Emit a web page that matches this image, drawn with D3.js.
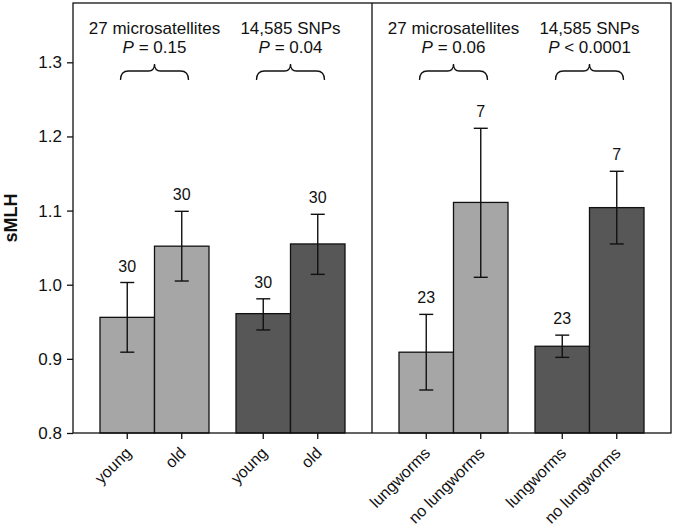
<!DOCTYPE html>
<html>
<head>
<meta charset="utf-8">
<script src="https://cdn.jsdelivr.net/npm/d3@7"></script>
<style>
  html, body { margin: 0; padding: 0; background: #fff; }
  svg { display: block; font-family: "Liberation Sans", Arial, sans-serif; }
</style>
</head>
<body>
<svg id="chart" width="674" height="529"></svg>
<script>
// ---- data ----
const panels = ["age", "lungworms"];
const markers = ["27 microsatellites", "14,585 SNPs"];
const pLabels = [["= 0.15", "= 0.04"], ["= 0.06", "< 0.0001"]];
const categories = [["young", "old"], ["lungworms", "no lungworms"]];
// means per panel -> marker -> category
const means = [[[0.956, 1.052], [0.961, 1.055]], [[0.909, 1.111], [0.917, 1.104]]];
const upper = [[[1.003, 1.099], [0.981, 1.095]], [[0.960, 1.211], [0.932, 1.153]]];
const lower = [[[0.909, 1.005], [0.939, 1.014]], [[0.858, 1.010], [0.902, 1.055]]];
const nLabels = [[[30, 30], [30, 30]], [[23, 7], [23, 7]]];
const yTicks = [0.8, 0.9, 1.0, 1.1, 1.2, 1.3];
const markerColors = ["#a6a6a6", "#575757"];

// ---- layout ----
const L = 73, R = 671, T = 3, B = 433;
const svg = d3.select("#chart");

const y = d3.scaleLinear().domain([0.8, 1.38]).range([B, T]);
const xPanel = d3.scaleBand().domain(panels).range([L, R]).padding(0);
const xGroup = d3.scaleBand().domain(markers).range([0, xPanel.bandwidth()])
  .paddingInner(0.1985).paddingOuter(0.1985);
const xBar = d3.scaleBand().domain([0, 1]).range([0, xGroup.bandwidth()]).padding(0);

// flatten records
const recs = [];
panels.forEach((p, pi) => markers.forEach((m, mi) => categories[pi].forEach((c, ci) => {
  const x0 = xPanel(p) + xGroup(m) + xBar(ci);
  recs.push({pi, mi, ci, cat: c, x0, w: xBar.bandwidth(),
    mean: means[pi][mi][ci], hi: upper[pi][mi][ci], lo: lower[pi][mi][ci], n: nLabels[pi][mi][ci]});
})));

// bars
svg.append("g").selectAll("rect").data(recs).join("rect")
  .attr("x", d => d.x0).attr("width", d => d.w)
  .attr("y", d => y(d.mean)).attr("height", d => y(0.8) - y(d.mean))
  .attr("fill", d => markerColors[d.mi]).attr("stroke", "#111").attr("stroke-width", 1.3);

// error bars
const eb = svg.append("g").attr("stroke", "#111").attr("stroke-width", 1.4);
recs.forEach(d => {
  const cx = d.x0 + d.w / 2;
  eb.append("line").attr("x1", cx).attr("x2", cx).attr("y1", y(d.hi)).attr("y2", y(d.lo));
  eb.append("line").attr("x1", cx - 7).attr("x2", cx + 7).attr("y1", y(d.hi)).attr("y2", y(d.hi));
  eb.append("line").attr("x1", cx - 7).attr("x2", cx + 7).attr("y1", y(d.lo)).attr("y2", y(d.lo));
});

// n labels
svg.append("g").selectAll("text").data(recs).join("text")
  .attr("x", d => d.x0 + d.w / 2).attr("y", d => y(d.hi) - 11)
  .attr("text-anchor", "middle").attr("font-size", 16).attr("fill", "#111")
  .text(d => d.n);

// frame
const frame = svg.append("g").attr("stroke", "#111").attr("stroke-width", 1.3).attr("fill", "none");
frame.append("rect").attr("x", L).attr("y", T).attr("width", R - L).attr("height", B - T);
frame.append("line").attr("x1", xPanel(panels[1])).attr("x2", xPanel(panels[1])).attr("y1", T).attr("y2", B);

// y axis
const yAxis = svg.append("g").attr("transform", `translate(${L},0)`)
  .call(d3.axisLeft(y).tickValues(yTicks).tickFormat(d3.format(".1f")).tickSize(6).tickPadding(5));
yAxis.select(".domain").remove();
yAxis.selectAll("line").attr("stroke", "#111").attr("stroke-width", 1.3);
yAxis.selectAll("text").attr("font-size", 17).attr("fill", "#111")
  .attr("font-family", "Liberation Sans, Arial, sans-serif");

// x ticks & labels
const xt = svg.append("g");
recs.forEach(d => {
  const cx = d.x0 + d.w / 2;
  xt.append("line").attr("x1", cx).attr("x2", cx).attr("y1", B).attr("y2", B + 6)
    .attr("stroke", "#111").attr("stroke-width", 1.3);
  xt.append("text").attr("transform", `translate(${cx + 5},${B + 21}) rotate(-45)`)
    .attr("text-anchor", "end").attr("font-size", 16).attr("fill", "#111").text(d.cat);
});

// y title
svg.append("text").attr("transform", `translate(17,${(T + B) / 2}) rotate(-90)`)
  .attr("text-anchor", "middle").attr("font-size", 18).attr("font-weight", "bold").attr("fill", "#111")
  .text("sMLH");

// group annotations with braces
panels.forEach((p, pi) => markers.forEach((m, mi) => {
  const cx = xPanel(p) + xGroup(m) + xGroup.bandwidth() / 2;
  svg.append("text").attr("x", cx).attr("y", 34).attr("text-anchor", "middle")
    .attr("font-size", 17).attr("fill", "#111").text(m);
  const t = svg.append("text").attr("x", cx).attr("y", 53).attr("text-anchor", "middle")
    .attr("font-size", 17).attr("fill", "#111");
  t.append("tspan").attr("font-style", "italic").text("P");
  t.append("tspan").text(" " + pLabels[pi][mi]);
  const x1 = cx - 34, x2 = cx + 34, yb = 80, yh = 71, yp = 64;
  const path = `M${x1},${yb} Q${x1},${yh} ${x1 + 8},${yh} L${cx - 6},${yh} Q${cx},${yh} ${cx},${yp} Q${cx},${yh} ${cx + 6},${yh} L${x2 - 8},${yh} Q${x2},${yh} ${x2},${yb}`;
  svg.append("path").attr("d", path).attr("fill", "none").attr("stroke", "#111").attr("stroke-width", 1.3);
}));
</script>
</body>
</html>
